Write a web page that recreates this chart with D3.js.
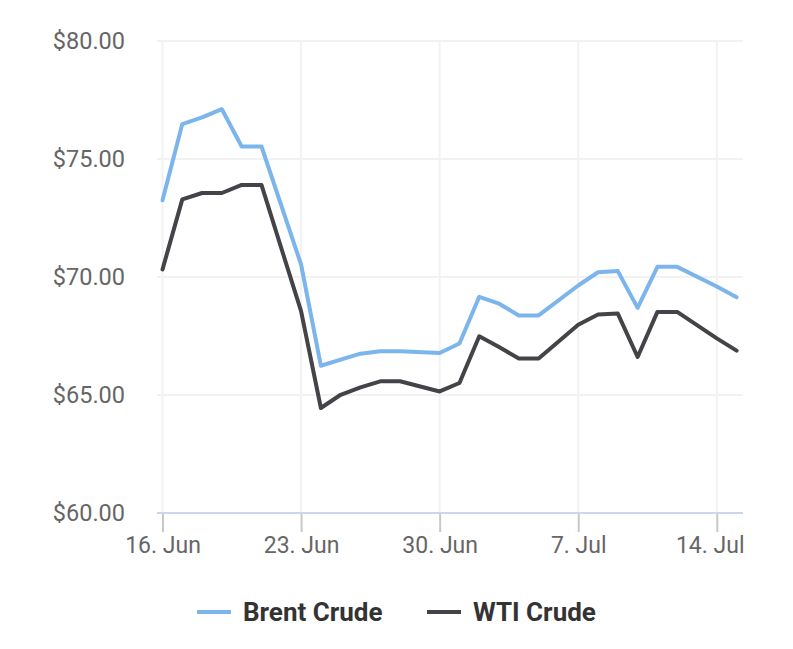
<!DOCTYPE html>
<html>
<head>
<meta charset="utf-8">
<script src="https://cdn.jsdelivr.net/npm/d3@7"></script>
<style>
  html, body { margin: 0; padding: 0; background: #fff; }
  svg { display: block; font-family: Roboto, "Noto Sans", sans-serif; }
</style>
</head>
<body>
<svg id="chart" width="793" height="649"></svg>
<script>
// Dates (2025) and values
const brentDates = ["2025-06-16","2025-06-17","2025-06-18","2025-06-19","2025-06-20","2025-06-21",
  "2025-06-23","2025-06-24","2025-06-25","2025-06-26","2025-06-27","2025-06-28",
  "2025-06-30","2025-07-01","2025-07-02","2025-07-03","2025-07-04","2025-07-05",
  "2025-07-07","2025-07-08","2025-07-09","2025-07-10","2025-07-11","2025-07-12",
  "2025-07-14","2025-07-15"];
const brentValues = [73.25, 76.48, 76.76, 77.11, 75.53, 75.53,
  70.53, 66.24, 66.50, 66.75, 66.85, 66.85,
  66.78, 67.18, 69.16, 68.87, 68.37, 68.37,
  69.64, 70.20, 70.25, 68.69, 70.43, 70.43,
  69.60, 69.14];
const wtiDates = brentDates;
const wtiValues = [70.32, 73.29, 73.56, 73.56, 73.90, 73.90,
  68.55, 64.45, 65.01, 65.32, 65.58, 65.58,
  65.15, 65.51, 67.49, 67.03, 66.55, 66.55,
  67.98, 68.41, 68.45, 66.61, 68.52, 68.52,
  67.40, 66.88];
const seriesNames = ["Brent Crude", "WTI Crude"];
const seriesColors = ["#7cb5ec", "#434348"];
const yTicks = [60, 65, 70, 75, 80];
const xTickDates = ["2025-06-16","2025-06-23","2025-06-30","2025-07-07","2025-07-14"];
const xTickLabels = ["16. Jun","23. Jun","30. Jun","7. Jul","14. Jul"];

const parse = d3.utcParse("%Y-%m-%d");
const svg = d3.select("#chart");

const plotLeft = 157, plotRight = 743, plotTop = 41, plotBottom = 513;

const x = d3.scaleUtc()
  .domain([parse("2025-06-16"), parse("2025-07-14")])
  .range([162.5, 716.8]);
const y = d3.scaleLinear().domain([60, 80]).range([plotBottom, plotTop]);

// horizontal grid
svg.append("g").selectAll("line").data(yTicks).join("line")
  .attr("x1", plotLeft).attr("x2", plotRight)
  .attr("y1", d => y(d)).attr("y2", d => y(d))
  .attr("stroke", "#f2f2f2").attr("stroke-width", 2);

// vertical grid
svg.append("g").selectAll("line").data(xTickDates).join("line")
  .attr("x1", d => x(parse(d))).attr("x2", d => x(parse(d)))
  .attr("y1", plotTop).attr("y2", plotBottom)
  .attr("stroke", "#f2f2f2").attr("stroke-width", 2);

// y axis labels
const yAxis = d3.axisLeft(y).tickValues(yTicks).tickSize(0).tickPadding(0)
  .tickFormat(d => "$" + d3.format(".2f")(d));
const yg = svg.append("g").attr("transform", `translate(125,0)`).call(yAxis);
yg.select(".domain").remove();
yg.selectAll("text").attr("font-size", 23.5).attr("fill", "#666666")
  .attr("font-family", "Roboto, sans-serif");

// x axis
const xAxis = d3.axisBottom(x).tickValues(xTickDates.map(parse))
  .tickSize(19).tickPadding(5)
  .tickFormat((d, i) => xTickLabels[i]);
const xg = svg.append("g").attr("transform", `translate(0,${plotBottom})`).call(xAxis);
xg.select(".domain").remove();
xg.selectAll(".tick line").attr("stroke", "#c8c8c8").attr("stroke-width", 2);
xg.selectAll("text").attr("font-size", 23).attr("fill", "#666666")
  .attr("font-family", "Roboto, sans-serif");
// keep last label inside the plot edge (justified like the reference)
xg.selectAll(".tick").filter((d, i) => i === xTickDates.length - 1).select("text")
  .attr("text-anchor", "end").attr("x", plotRight - x(parse(xTickDates[xTickDates.length - 1])) + 1);
svg.append("line").attr("x1", plotLeft).attr("x2", plotRight)
  .attr("y1", plotBottom).attr("y2", plotBottom)
  .attr("stroke", "#ccd6eb").attr("stroke-width", 2);

// lines
const line = d3.line().x(d => x(d[0])).y(d => y(d[1]));
const data = [
  brentDates.map((d, i) => [parse(d), brentValues[i]]),
  wtiDates.map((d, i) => [parse(d), wtiValues[i]])
];
data.forEach((s, i) => {
  svg.append("path").datum(s).attr("d", line)
    .attr("fill", "none").attr("stroke", seriesColors[i])
    .attr("stroke-width", 4).attr("stroke-linejoin", "round").attr("stroke-linecap", "round");
});

// legend
const legendX = [197, 427];
const lg = svg.append("g");
seriesNames.forEach((n, i) => {
  lg.append("line").attr("x1", legendX[i]).attr("x2", legendX[i] + 34)
    .attr("y1", 612).attr("y2", 612)
    .attr("stroke", seriesColors[i]).attr("stroke-width", 4);
  lg.append("text").attr("x", legendX[i] + 46).attr("y", 621)
    .attr("font-size", 26).attr("font-weight", "bold").attr("fill", "#333333")
    .attr("font-family", "Roboto, sans-serif")
    .text(n);
});
</script>
</body>
</html>
